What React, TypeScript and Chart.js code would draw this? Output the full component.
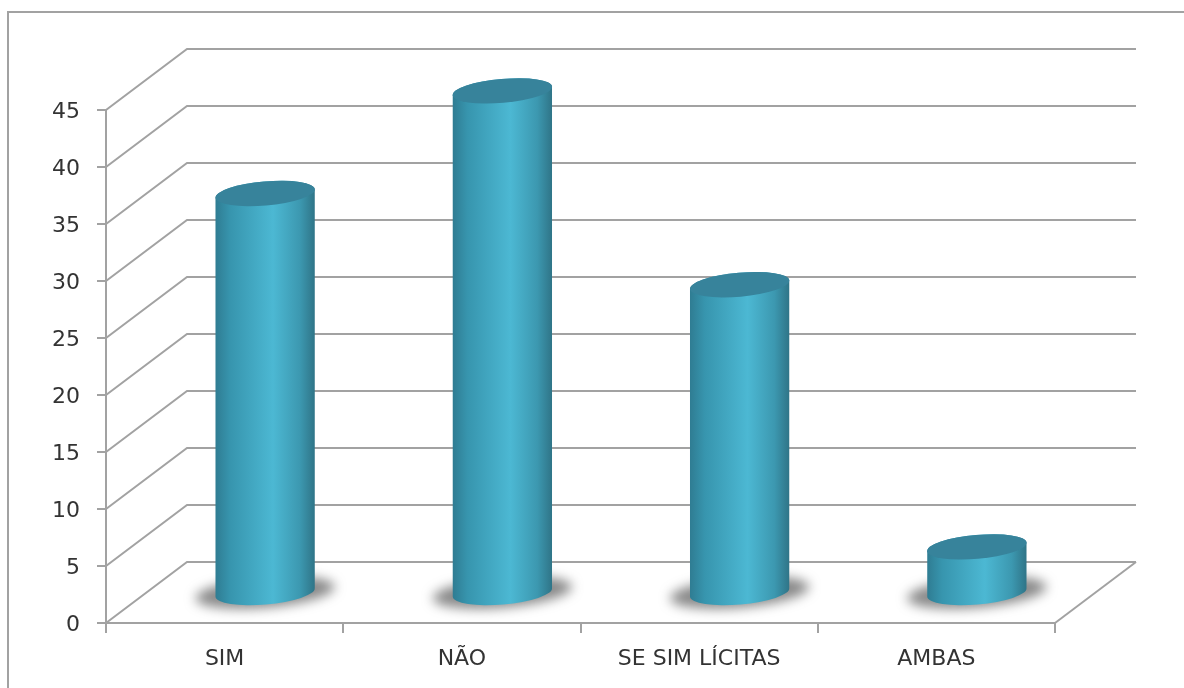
import React, { useEffect, useRef } from "react";
import { Chart, registerables } from "chart.js";

Chart.register(...registerables);

const categories = ["SIM", "NÃO", "SE SIM LÍCITAS", "AMBAS"];
const seriesValues = [35, 44, 27, 4];
const yTicks = [0, 5, 10, 15, 20, 25, 30, 35, 40, 45];

const DEPTH_X = 81;
const DEPTH_Y = -61;
const LINE = "#a2a2a2";
const TEXT = "#333333";
const FONT = { family: "'DejaVu Sans', sans-serif", size: 22 };

const scene = {
  id: "scene",
  beforeDatasetsDraw(chart: any) {
    const { ctx, chartArea: a, scales } = chart;
    const y = scales.y;
    ctx.save();
    // outer frame (runs off the right and bottom of the picture)
    ctx.strokeStyle = LINE;
    ctx.lineWidth = 2;
    ctx.strokeRect(8, 12, 1300, 800);
    // walls and floor
    for (const t of yTicks) {
      const py = y.getPixelForValue(t);
      ctx.beginPath();
      ctx.moveTo(a.left, py);
      ctx.lineTo(a.left + DEPTH_X, py + DEPTH_Y);
      ctx.lineTo(a.right + DEPTH_X, py + DEPTH_Y);
      ctx.stroke();
    }
    ctx.beginPath();
    ctx.moveTo(a.right, a.bottom);
    ctx.lineTo(a.right + DEPTH_X, a.bottom + DEPTH_Y);
    ctx.stroke();
    ctx.restore();
  },
  afterDatasetsDraw(chart: any) {
    const { ctx } = chart;
    const meta = chart.getDatasetMeta(0);
    const rot = (-5 * Math.PI) / 180;
    const ry = 12;
    meta.data.forEach((el: any) => {
      const cx = el.x + DEPTH_X / 2;
      const rx = el.width / 2;
      const topY = el.y + DEPTH_Y / 2;
      const baseY = el.base + DEPTH_Y / 2 + 1;
      ctx.save();
      // shadow
      ctx.save();
      ctx.filter = "blur(6px)";
      ctx.fillStyle = "rgba(85,85,85,0.7)";
      ctx.beginPath();
      ctx.ellipse(cx, baseY, rx + 20, ry + 3, rot, 0, Math.PI * 2);
      ctx.fill();
      ctx.restore();
      // body
      const g = ctx.createLinearGradient(cx - rx, 0, cx + rx, 0);
      g.addColorStop(0, "#2f7c92");
      g.addColorStop(0.15, "#3795ae");
      g.addColorStop(0.58, "#4cb8d3");
      g.addColorStop(0.85, "#3c98b0");
      g.addColorStop(1, "#2f7487");
      ctx.fillStyle = g;
      ctx.beginPath();
      ctx.ellipse(cx, baseY, rx, ry, rot, 0, Math.PI);
      ctx.ellipse(cx, topY, rx, ry, rot, Math.PI, Math.PI * 2);
      ctx.closePath();
      ctx.fill();
      // cap
      ctx.fillStyle = "#37839b";
      ctx.beginPath();
      ctx.ellipse(cx, topY, rx, ry, rot, 0, Math.PI * 2);
      ctx.fill();
      ctx.restore();
    });
  },
};

export default function App() {
  const ref = useRef<HTMLCanvasElement>(null);
  useEffect(() => {
    document.body.style.margin = "0";
    const chart = new Chart(ref.current!, {
      type: "bar",
      data: {
        labels: categories,
        datasets: [
          {
            data: seriesValues,
            backgroundColor: "transparent",
            borderWidth: 0,
            barPercentage: 0.42,
            categoryPercentage: 1,
          },
        ],
      },
      plugins: [scene],
      options: {
        responsive: false,
        animation: false,
        layout: { padding: { top: 110, right: 129, left: 0, bottom: 0 } },
        plugins: { legend: { display: false }, tooltip: { enabled: false }, title: { display: false } },
        scales: {
          x: {
            afterFit: (s: any) => {
              s.height = 65;
            },
            grid: { drawOnChartArea: false, drawTicks: true, tickLength: 10, color: LINE, lineWidth: 2, offset: true },
            border: { color: LINE, width: 2 },
            ticks: { color: TEXT, font: FONT, padding: 13, maxRotation: 0, autoSkip: false },
          },
          y: {
            min: 0,
            max: 45,
            afterFit: (s: any) => {
              s.width = 106;
            },
            afterBuildTicks: (s: any) => {
              s.ticks = yTicks.map((value) => ({ value }));
            },
            grid: { drawOnChartArea: false, drawTicks: true, tickLength: 9, color: LINE, lineWidth: 2 },
            border: { color: LINE, width: 2 },
            ticks: { color: TEXT, font: FONT, padding: 17, labelOffset: 2 },
          },
        },
      },
    });
    return () => chart.destroy();
  }, []);
  return (
    <div style={{ position: "fixed", left: 0, top: 0, width: 1184, height: 688, background: "#fff", overflow: "hidden" }}>
      <canvas ref={ref} width={1184} height={688} style={{ display: "block", filter: "blur(0.7px)" }} />
    </div>
  );
}
